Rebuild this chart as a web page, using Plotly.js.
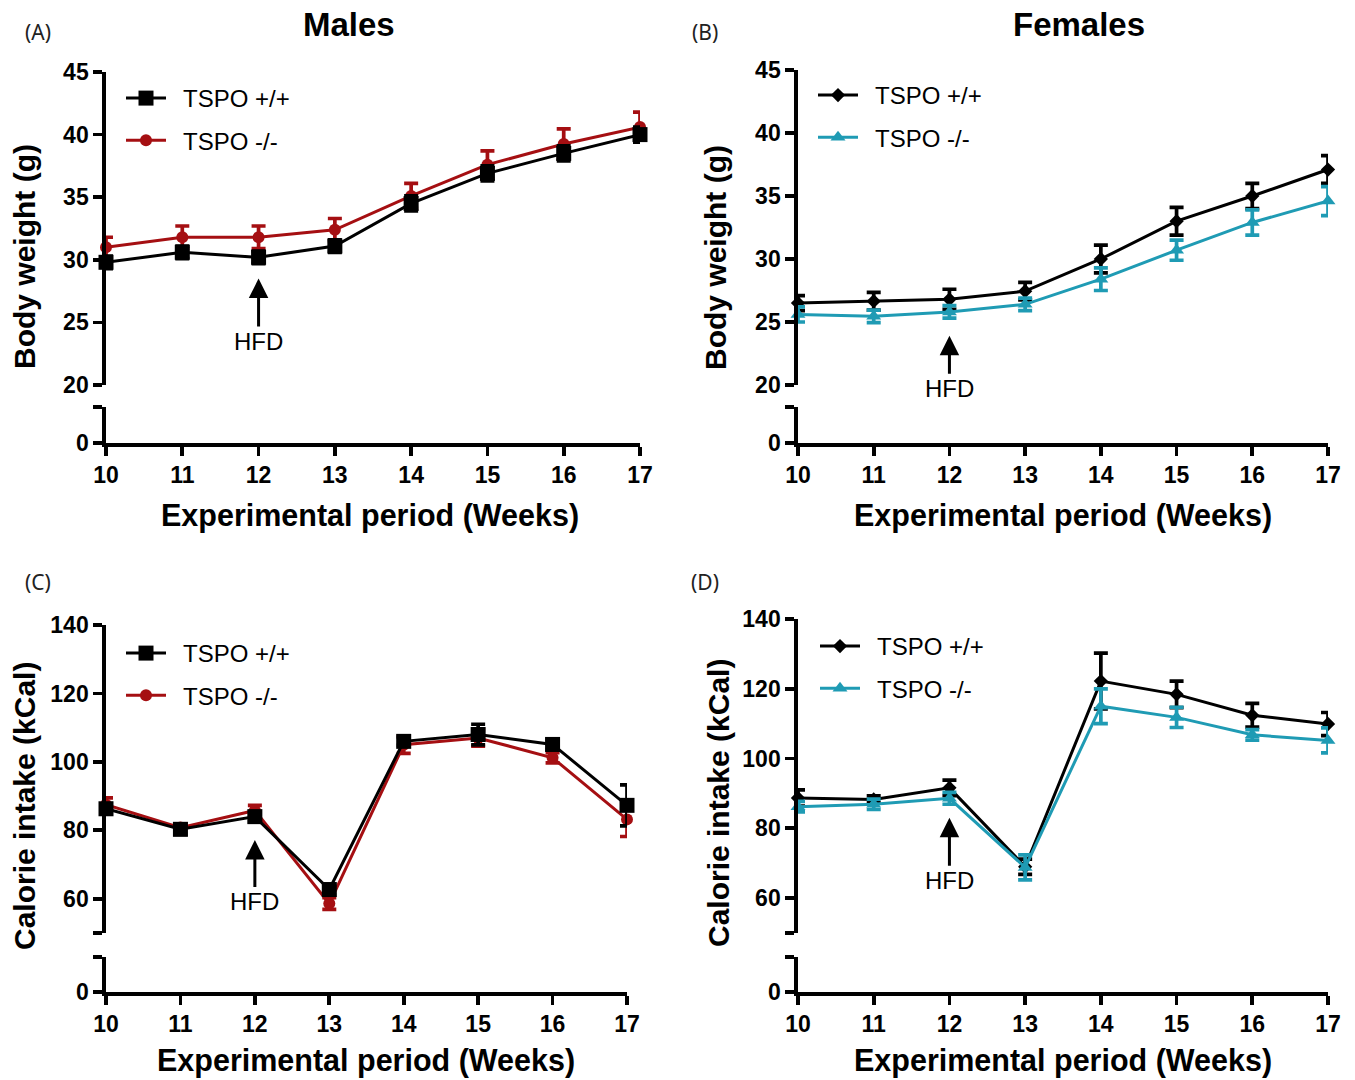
<!DOCTYPE html>
<html><head><meta charset="utf-8">
<script src="https://cdn.plot.ly/plotly-3.0.1.min.js"></script>
<style>html,body{margin:0;padding:0;background:#fff}#chart{width:1355px;height:1080px}</style>
</head><body><div id="chart"></div>
<script>
// ---------- data ----------
const weeks = [10, 11, 12, 13, 14, 15, 16, 17];
const seriesNames = ['TSPO +/+', 'TSPO -/-'];
const panelTitles = ['Males', 'Females'];
const panelLabels = ['(A)', '(B)', '(C)', '(D)'];
const xTitle = 'Experimental period (Weeks)';
const yTitles = ['Body weight (g)', 'Calorie intake (kCal)'];
const hfdWeek = 12;

const maleBW_WT      = [29.8, 30.6, 30.2, 31.1, 34.5, 36.9, 38.5, 40.0];
const maleBW_WT_err  = [0.5, 0.5, 0.5, 0.5, 0.6, 0.6, 0.6, 0.6];
const maleBW_KO      = [31.0, 31.8, 31.8, 32.4, 35.1, 37.6, 39.25, 40.6];
const maleBW_KO_err  = [0.8, 0.9, 0.9, 0.9, 1.0, 1.1, 1.2, 1.2];

const femaleBW_WT     = [26.5, 26.65, 26.8, 27.45, 30.0, 33.0, 35.0, 37.1];
const femaleBW_WT_err = [0.6, 0.7, 0.8, 0.7, 1.1, 1.1, 1.0, 1.1];
const femaleBW_KO     = [25.6, 25.45, 25.8, 26.4, 28.4, 30.7, 32.9, 34.6];
const femaleBW_KO_err = [0.6, 0.5, 0.5, 0.5, 0.9, 0.8, 1.0, 1.15];

const maleKcal_WT     = [86.3, 80.3, 84.0, 62.7, 106.0, 108.0, 105.1, 87.3];
const maleKcal_WT_err = [1.5, 1.5, 1.5, 1.5, 1.2, 3.0, 1.5, 6.0];
const maleKcal_KO     = [87.5, 80.8, 85.8, 58.6, 105.0, 107.0, 101.2, 83.2];
const maleKcal_KO_err = [2.0, 1.0, 1.5, 1.7, 2.5, 2.4, 1.5, 5.0];

const femaleKcal_WT     = [88.7, 88.3, 91.6, 69.0, 122.2, 118.4, 112.4, 109.9];
const femaleKcal_WT_err = [2.3, 1.0, 2.2, 2.2, 8.0, 3.8, 3.4, 3.3];
const femaleKcal_KO     = [86.2, 86.9, 88.6, 68.8, 115.0, 111.8, 106.8, 105.2];
const femaleKcal_KO_err = [1.5, 1.5, 1.7, 3.6, 5.0, 2.9, 1.5, 3.6];

const bwTicks = [20, 25, 30, 35, 40, 45];
const bwTickText = ['20', '25', '30', '35', '40', '45'];
const kcalTicks = [50, 60, 80, 100, 120, 140];
const kcalTickText = ['', '60', '80', '100', '120', '140'];
const lowTicks = [0, 10];
const lowTickText = ['0', ''];

// ---------- styling ----------
const W = 1355, H = 1080;
const FONT = 'Liberation Sans, Arial, Helvetica, sans-serif';
const BLACK = '#000000', RED = '#a50f12', TEAL = '#1f9bb4';
const px = v => v / W;
const py = v => (H - v) / H;

// panel geometry in pixels: [x0, x1, yTop, yUpBottom, yLowTop, yZero]
const geo = [
  [106, 640, 72, 385, 407, 443],
  [798, 1328, 70, 385, 407, 443],
  [106, 627, 625, 933, 957, 992],
  [798, 1328, 619, 933, 957, 992]
];
const ranges = [[20, 45], [20, 45], [50, 140], [50, 140]];
const tickSets = [[bwTicks, bwTickText], [bwTicks, bwTickText], [kcalTicks, kcalTickText], [kcalTicks, kcalTickText]];

const layout = {
  width: W, height: H, autosize: false,
  margin: {l: 0, r: 0, t: 0, b: 0},
  paper_bgcolor: '#fff', plot_bgcolor: 'rgba(0,0,0,0)',
  font: {family: FONT, color: '#000'},
  annotations: [], showlegend: true
};

const axCommon = {
  showgrid: false, zeroline: false, showline: true, linecolor: '#000', linewidth: 3.7,
  ticks: 'outside', ticklen: 9, tickwidth: 3.7, tickcolor: '#000',
  tickfont: {family: FONT, size: 23, color: '#000', weight: 'bold'},
  fixedrange: true
};

const data = [];
geo.forEach((g, i) => {
  const n = i + 1;
  const xName = n === 1 ? 'xaxis' : 'xaxis' + n;
  const yUp = 2 * i + 1, yLo = 2 * i + 2;
  const yUpName = yUp === 1 ? 'yaxis' : 'yaxis' + yUp;
  const yLoName = 'yaxis' + yLo;
  const xRef = n === 1 ? 'x' : 'x' + n;
  layout[xName] = Object.assign({}, axCommon, {
    domain: [px(g[0]), px(g[1])], range: [weeks[0], weeks[weeks.length - 1]],
    tickvals: weeks, ticktext: weeks.map(String), anchor: 'y' + yLo, ticklabelstandoff: 0
  });
  layout[yUpName] = Object.assign({}, axCommon, {
    domain: [py(g[3]), py(g[2])], range: ranges[i],
    tickvals: tickSets[i][0], ticktext: tickSets[i][1], anchor: xRef
  });
  layout[yLoName] = Object.assign({}, axCommon, {
    domain: [py(g[5]), py(g[4])], range: [lowTicks[0], lowTicks[1]],
    tickvals: lowTicks, ticktext: lowTickText, anchor: xRef
  });
  // empty placeholder trace so the lower (broken) axis segment exists
  data.push({type: 'scatter', mode: 'markers', x: [], y: [], xaxis: xRef, yaxis: 'y' + yLo,
             showlegend: false, hoverinfo: 'skip'});
});

// ---------- traces ----------
const PAD = '\u2002';
function tr(y, err, name, color, symbol, size, xa, ya, leg, rank) {
  return {
    type: 'scatter', mode: 'lines+markers', x: weeks, y: y, name: PAD + name,
    xaxis: xa, yaxis: ya, legend: leg, legendgroup: leg + name, legendrank: rank,
    cliponaxis: false,
    line: {color: color, width: 3},
    marker: {color: color, symbol: symbol, size: size},
    error_y: {type: 'data', array: err, visible: true, color: color, thickness: 3.7, width: 7}
  };
}
data.push(
  tr(maleBW_KO, maleBW_KO_err, seriesNames[1], RED, 'circle', 12, 'x', 'y', 'legend', 2),
  tr(maleBW_WT, maleBW_WT_err, seriesNames[0], BLACK, 'square', 15, 'x', 'y', 'legend', 1),
  tr(femaleBW_WT, femaleBW_WT_err, seriesNames[0], BLACK, 'diamond', 11, 'x2', 'y3', 'legend2', 1),
  tr(femaleBW_KO, femaleBW_KO_err, seriesNames[1], TEAL, 'triangle-up', 13, 'x2', 'y3', 'legend2', 2),
  tr(maleKcal_KO, maleKcal_KO_err, seriesNames[1], RED, 'circle', 12, 'x3', 'y5', 'legend3', 2),
  tr(maleKcal_WT, maleKcal_WT_err, seriesNames[0], BLACK, 'square', 15, 'x3', 'y5', 'legend3', 1),
  tr(femaleKcal_WT, femaleKcal_WT_err, seriesNames[0], BLACK, 'diamond', 11, 'x4', 'y7', 'legend4', 1),
  tr(femaleKcal_KO, femaleKcal_KO_err, seriesNames[1], TEAL, 'triangle-up', 13, 'x4', 'y7', 'legend4', 2)
);

// ---------- legends ----------
const legPos = [[121, 76], [813, 73], [121, 631], [815, 624]];
['legend', 'legend2', 'legend3', 'legend4'].forEach((k, i) => {
  layout[k] = {
    x: px(legPos[i][0]), y: py(legPos[i][1]), xanchor: 'left', yanchor: 'top',
    xref: 'paper', yref: 'paper',
    bgcolor: 'rgba(0,0,0,0)', borderwidth: 0,
    font: {family: FONT, size: 24, color: '#000'},
    traceorder: 'grouped', tracegroupgap: 8, itemwidth: 40, itemclick: false, itemdoubleclick: false
  };
});

// ---------- text annotations ----------
const A = layout.annotations;
function txt(text, x, y, size, opts) {
  A.push(Object.assign({
    text: text, x: px(x), y: py(y), xref: 'paper', yref: 'paper', showarrow: false,
    xanchor: 'center', yanchor: 'middle', font: {family: FONT, size: size, color: '#000', weight: 'bold'}
  }, opts || {}));
}
txt(panelTitles[0], 349, 24, 33);
txt(panelTitles[1], 1079, 24, 33);
const lblFont = {family: 'Noto Sans, DejaVu Sans, sans-serif', size: 21, color: '#222', weight: 'normal'};
txt(panelLabels[0], 38, 32, 21, {font: lblFont});
txt(panelLabels[1], 705, 32, 21, {font: lblFont});
txt(panelLabels[2], 38, 582, 21, {font: lblFont});
txt(panelLabels[3], 705, 582, 21, {font: lblFont});
txt(xTitle, 370, 515, 30.5);
txt(xTitle, 1063, 515, 30.5);
txt(xTitle, 366, 1060, 30.5);
txt(xTitle, 1063, 1060, 30.5);
txt(yTitles[0], 25, 257, 30, {textangle: -90});
txt(yTitles[0], 716, 257, 30, {textangle: -90});
txt(yTitles[1], 25, 806, 30, {textangle: -90});
txt(yTitles[1], 718, 803, 30, {textangle: -90});

// HFD arrows: [xref, yref, arrow tip value, pixel offset of text]
const hfd = [['x', 'y', 28.5, 63], ['x2', 'y3', 23.9, 53], ['x3', 'y5', 77.2, 62], ['x4', 'y7', 83.0, 63]];
hfd.forEach(h => {
  A.push({
    x: hfdWeek, y: h[2], xref: h[0], yref: h[1], text: 'HFD', showarrow: true,
    ax: 0, ay: h[3], arrowhead: 2, arrowsize: 1.3, arrowwidth: 3, arrowcolor: '#000',
    font: {family: FONT, size: 24, color: '#000'}
  });
});

Plotly.newPlot('chart', data, layout, {staticPlot: true, displayModeBar: false});
</script>
</body></html>
